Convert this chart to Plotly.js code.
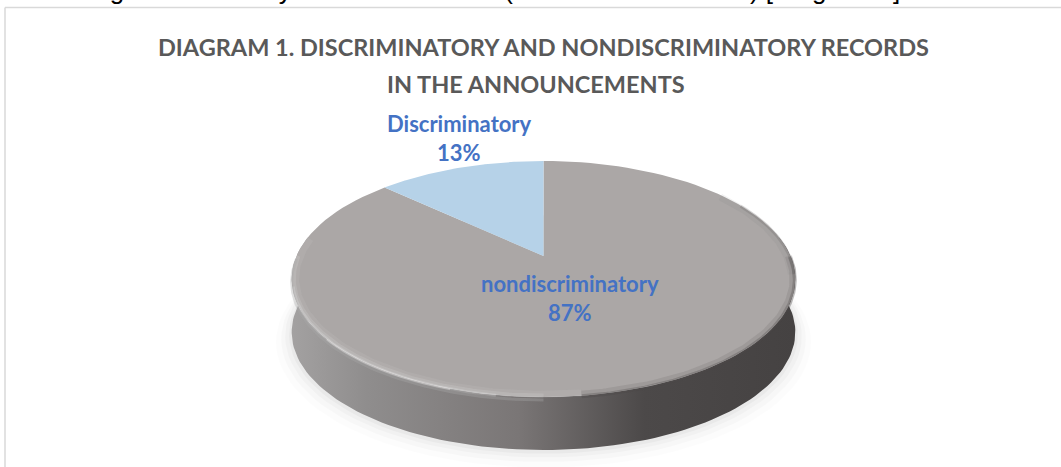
<!DOCTYPE html>
<html><head><meta charset="utf-8">
<script src="https://cdn.plot.ly/plotly-3.0.1.min.js"></script>
<style>html,body{margin:0;padding:0;background:#fff;overflow:hidden}</style>
</head><body><div id="chart" style="width:1061px;height:467px"></div>
<script>
const categories = ["nondiscriminatory", "Discriminatory"];
const shares = [87, 13];
const titleLines = ["DIAGRAM 1. DISCRIMINATORY AND NONDISCRIMINATORY RECORDS", "IN THE ANNOUNCEMENTS"];
const bodyLine = "Holding discriminatory text in these note (non-announcements) [Diagram 1]";
const sliceColors = ["#aba7a6", "#b6d2e8"];
const wallColors = [[0, "#a3a1a1"], [0.15, "#8f8d8d"], [0.45, "#7a7676"], [0.7, "#4c4949"], [1, "#454242"]];

const cx = 543.5, cy = 256, a = 247, b = 113.5, k = 0.195, depth = 53;
function P(th, r, dz) {
  const X = r * Math.sin(th), Y = r * Math.cos(th), w = 1 + k * Y;
  return [cx + a * X / w, cy - b * Y / w + (dz || 0)];
}
function arc(t0, t1, r, dz) {
  const n = 120, xs = [], ys = [];
  for (let i = 0; i <= n; i++) {
    const p = P(t0 + (t1 - t0) * i / n, r, dz);
    xs.push(p[0]); ys.push(p[1]);
  }
  return [xs, ys];
}
const total = shares.reduce((s, v) => s + v, 0);
const TAU = 2 * Math.PI, start = 0;
const endFirst = start + TAU * shares[0] / total;
const traces = [];
function poly(xs, ys, fill, extra) {
  traces.push(Object.assign({type: "scatter", mode: "lines", x: xs, y: ys, fill: "toself",
    fillcolor: fill, line: {width: 0}, hoverinfo: "skip", showlegend: false}, extra || {}));
}
function stroke(xs, ys, color, width) {
  traces.push({type: "scatter", mode: "lines", x: xs, y: ys, line: {color, width},
    hoverinfo: "skip", showlegend: false});
}
[[1.06, 60, "rgba(0,0,0,0.012)"], [1.04, 58, "rgba(0,0,0,0.018)"], [1.025, 56, "rgba(0,0,0,0.025)"], [1.01, 55, "rgba(0,0,0,0.03)"]].forEach(s => {
  const c = arc(0, TAU, s[0], s[1]); poly(c[0], c[1], s[2]);
});
const th0 = Math.PI / 2 - 0.17, th1 = 3 * Math.PI / 2 + 0.17;
const up = arc(th0, th1, 1, 0), low = arc(th1, th0, 1, depth);
poly(up[0].concat(low[0]), up[1].concat(low[1]), "#666",
  {fillgradient: {type: "horizontal", colorscale: wallColors}});
const f = arc(start, endFirst, 1, 0);
poly([cx].concat(f[0], [cx]), [cy].concat(f[1], [cy]), sliceColors[0]);
const g = arc(endFirst, TAU, 1, 0);
poly([cx].concat(g[0], [cx]), [cy].concat(g[1], [cy]), sliceColors[1]);
// soft bevel: light lip on the left/front, dark lip on the right/front
const bevel = [
  [0.30, 0.55, 0.985, 0, "rgba(120,117,117,0.10)", 7],
  [0.34, 0.55, 0.996, 0, "rgba(95,92,92,0.22)", 3],
  [0.50, 0.96, 0.992, 0, "rgba(85,82,82,0.15)", 7],
  [0.50, 0.96, 0.998, 1, "rgba(75,72,72,0.30)", 4],
  [0.96, 1.55, 0.985, 0, "rgba(215,213,212,0.12)", 7],
  [1.00, 1.50, 0.992, 0, "rgba(222,220,219,0.20)", 4],
  [1.05, 1.42, 0.996, 1, "rgba(228,226,225,0.28)", 3],
  [1.10, 1.28, 0.998, 1, "rgba(238,236,235,0.35)", 2],
  [1.00, 1.50, 1.0, 3, "rgba(170,168,168,0.35)", 3]
];
bevel.forEach(v => { const r = arc(Math.PI * v[0], Math.PI * v[1], v[2], v[3]); stroke(r[0], r[1], v[4], v[5]); });

const blue = "#4472c4", grey = "#595959";
const lblFont = {family: "Lato, sans-serif", size: 22, color: blue, weight: 700};
const ttlFont = {family: "Lato, sans-serif", size: 23.5, color: grey, weight: 700};
const layout = {
  width: 1061, height: 467, margin: {l: 0, r: 0, t: 0, b: 0},
  paper_bgcolor: "#fff", plot_bgcolor: "#fff", showlegend: false,
  xaxis: {range: [0, 1061], visible: false, fixedrange: true},
  yaxis: {range: [467, 0], visible: false, fixedrange: true},
  shapes: [
    {type: "line", xref: "x", yref: "y", x0: 5, x1: 1061, y0: 7.5, y1: 7.5, line: {color: "#d9d9d9", width: 1.5}},
    {type: "line", xref: "x", yref: "y", x0: 5, x1: 5, y0: 7.5, y1: 467, line: {color: "#d9d9d9", width: 1.5}}
  ],
  annotations: [
    {x: 34, y: 7, xanchor: "left", yanchor: "bottom", text: bodyLine, showarrow: false, font: {family: "Liberation Sans, Arial, sans-serif", size: 26, color: "#000"}},
    {x: 543, y: 47, text: titleLines[0], showarrow: false, font: ttlFont},
    {x: 536, y: 84, text: titleLines[1], showarrow: false, font: ttlFont},
    {x: 459, y: 123, text: categories[1], showarrow: false, font: lblFont},
    {x: 459, y: 152, text: shares[1] + "%", showarrow: false, font: lblFont},
    {x: 569.5, y: 283, text: categories[0], showarrow: false, font: lblFont},
    {x: 569.5, y: 312, text: shares[0] + "%", showarrow: false, font: lblFont}
  ]
};
Plotly.newPlot("chart", traces, layout, {displayModeBar: false, staticPlot: true});
</script></body></html>
